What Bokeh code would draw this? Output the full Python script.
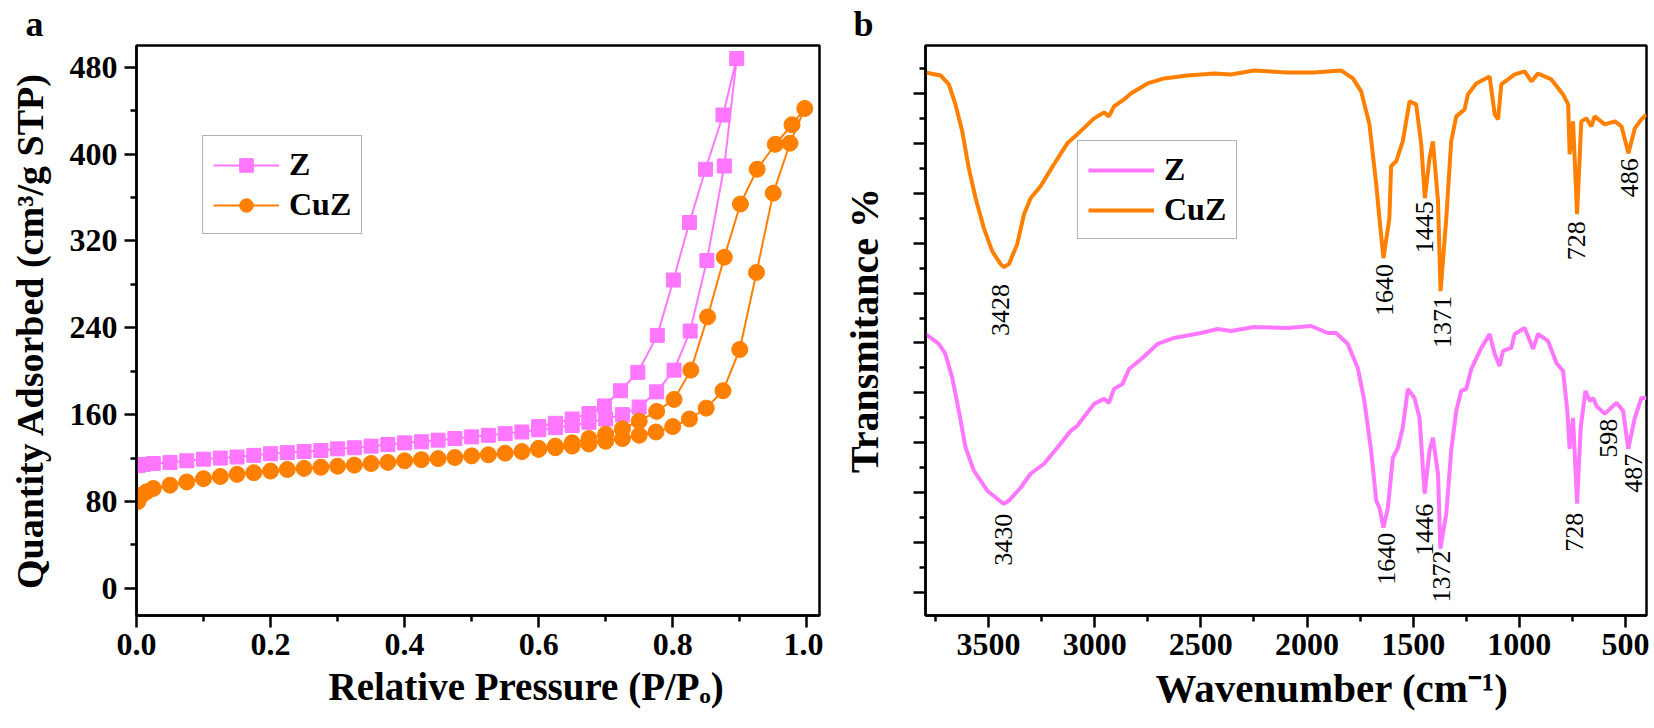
import numpy as np
from bokeh.plotting import figure
from bokeh.models import Range1d, FixedTicker, Title, PrintfTickFormatter, CustomJSTickFormatter
from bokeh.layouts import row
from bokeh.embed import file_html
from bokeh.resources import INLINE
from bokeh.core.properties import value

PINK = "#FF77FF"
ORANGE = "#FF7F00"
FONT = "Liberation Serif"

# ---------------- Panel a: N2 isotherms ----------------
z_ads_p = [0.002, 0.01, 0.025, 0.05, 0.075, 0.10, 0.125, 0.15, 0.175, 0.20, 0.225, 0.25, 0.275,
           0.30, 0.325, 0.35, 0.375, 0.40, 0.425, 0.45, 0.475, 0.50, 0.525, 0.55, 0.575, 0.60,
           0.625, 0.65, 0.675, 0.70, 0.725, 0.75, 0.776, 0.802, 0.826, 0.851, 0.877, 0.8955]
z_ads_q = [113, 114, 115, 116, 117.5, 119, 120, 121, 122.5, 124, 125, 126, 127,
           128.5, 129.5, 131, 132.5, 134, 135, 136.5, 138, 139.5, 141, 142.5, 144, 146,
           148, 150, 153, 156, 160, 167, 181, 201, 237, 302, 389, 488]
z_des_p = [0.875, 0.849, 0.825, 0.801, 0.777, 0.748, 0.722, 0.698, 0.675, 0.65, 0.625, 0.60]
z_des_q = [436, 386, 337, 284, 233, 199, 182, 168, 161, 156, 152, 149]

cuz_ads_p = [0.002, 0.008, 0.015, 0.025, 0.05, 0.075, 0.10, 0.125, 0.15, 0.175, 0.20, 0.225,
             0.25, 0.275, 0.30, 0.325, 0.35, 0.375, 0.40, 0.425, 0.45, 0.475, 0.50, 0.525,
             0.55, 0.575, 0.60, 0.625, 0.65, 0.675, 0.70, 0.725, 0.75, 0.775, 0.80, 0.825,
             0.85, 0.875, 0.90, 0.925, 0.95, 0.975, 0.997]
cuz_ads_q = [80, 86, 89, 92, 95, 98, 101, 103, 105, 106.5, 108, 109.5,
             110.5, 111.5, 112.5, 113.5, 115, 116, 117.5, 118.5, 119.5, 120.5, 122, 123,
             124.5, 126, 128, 129.5, 131, 133, 135.5, 138, 141, 144, 149, 156,
             166, 182, 220, 291, 364, 410, 442]
cuz_des_p = [0.978, 0.953, 0.926, 0.901, 0.877, 0.852, 0.827, 0.802, 0.776, 0.75, 0.725, 0.70,
             0.675, 0.65, 0.625, 0.60]
cuz_des_q = [427, 409, 386, 354, 305, 250, 201, 174, 163, 154, 147, 142, 138, 134, 131, 129]

# ---------------- Panel b: FTIR spectra ----------------
cuz_wn = [3797, 3726, 3687, 3656, 3624, 3593, 3561, 3522, 3483, 3443, 3428, 3404, 3365, 3333,
          3302, 3255, 3192, 3129, 3082, 3003, 2956, 2933, 2909, 2862, 2830, 2751, 2673, 2563,
          2437, 2358, 2249, 2091, 1966, 1840, 1784, 1745, 1706, 1674, 1659, 1640, 1612, 1604,
          1580, 1549, 1517, 1486, 1462, 1445, 1423, 1407, 1383, 1371, 1344, 1321, 1297, 1258,
          1242, 1203, 1140, 1116, 1100, 1085, 1022, 975, 943, 912, 849, 794, 770, 763, 747,
          728, 708, 684, 661, 645, 598, 550, 519, 486, 456, 425, 401]
cuz_t = [544, 541, 532, 512, 485, 448, 418, 388, 365, 352, 349, 352, 372, 402,
         418, 430, 452, 473, 482, 498, 504, 500, 510, 517, 523, 533, 538, 541,
         543, 542, 546, 544, 544, 546, 538, 525, 492, 432, 398, 358, 398, 450,
         455, 475, 515, 512, 472, 418, 458, 475, 415, 325, 398, 475, 500, 507,
         522, 533, 540, 502, 497, 532, 542, 545, 535, 543, 537, 522, 512, 462, 495,
         402, 495, 498, 490, 500, 492, 495, 490, 463, 488, 497, 502]

z_wn = [3797, 3734, 3703, 3671, 3640, 3608, 3569, 3506, 3430, 3404, 3349, 3302, 3239, 3176,
        3113, 3082, 3003, 2956, 2933, 2909, 2869, 2838, 2775, 2704, 2626, 2500, 2421, 2358,
        2249, 2091, 1981, 1902, 1863, 1808, 1761, 1730, 1698, 1674, 1659, 1640, 1619, 1596,
        1572, 1549, 1525, 1494, 1470, 1446, 1423, 1407, 1383, 1372, 1344, 1321, 1297, 1274,
        1250, 1226, 1179, 1140, 1116, 1093, 1077, 1038, 1022, 975, 935, 912, 865, 825, 794,
        774, 763, 747, 728, 711, 689, 668, 652, 637, 598, 543, 511, 487, 456, 425, 401]
z_t = [282, 272, 262, 238, 205, 168, 145, 125, 112, 115, 128, 142, 152, 168,
       185, 190, 212, 217, 213, 227, 232, 247, 258, 272, 278, 283, 287, 285,
       289, 288, 290, 283, 283, 272, 248, 215, 165, 115, 108, 88, 108, 158,
       168, 188, 227, 218, 198, 122, 165, 178, 142, 67, 102, 165, 205, 225,
       227, 247, 268, 282, 262, 250, 265, 268, 282, 288, 267, 282, 275, 253, 245,
       205, 167, 198, 112, 188, 225, 215, 218, 210, 202, 213, 205, 167, 198, 218, 218]

cuz_peak_text = ["3428", "1640", "1445", "1371", "728", "486"]
cuz_peak_x = [3443, 1637, 1448, 1363, 731, 481]
cuz_peak_y = [332, 352, 415, 320, 395, 458]
z_peak_text = ["3430", "1640", "1446", "1372", "728", "598", "487"]
z_peak_x = [3429, 1627, 1448, 1368, 740, 580, 462]
z_peak_y = [102, 83, 112, 65, 103, 197, 162]


def style(p):
    p.xgrid.grid_line_color = None
    p.ygrid.grid_line_color = None
    p.outline_line_color = "black"
    p.outline_line_width = 2.5
    p.outline_line_alpha = 1.0
    p.background_fill_color = "white"
    p.border_fill_color = "white"
    for ax in (p.xaxis[0], p.yaxis[0]):
        ax.axis_line_width = 2.5
        ax.axis_line_color = "black"
        ax.major_tick_line_width = 2.5
        ax.minor_tick_line_width = 2.5
        ax.major_tick_line_color = "black"
        ax.minor_tick_line_color = "black"
        ax.major_tick_out = 12
        ax.major_tick_in = 0
        ax.minor_tick_out = 6
        ax.minor_tick_in = 0
        ax.major_label_text_font = FONT
        ax.major_label_text_font_style = "bold"
        ax.major_label_text_font_size = "32px"
        ax.major_label_text_color = "black"
        ax.axis_label_text_font = FONT
        ax.axis_label_text_font_style = "bold"
        ax.axis_label_text_font_size = "40px"
        ax.axis_label_text_color = "black"


def style_legend(p, x, y):
    lg = p.legend[0]
    lg.location = (x, y)
    lg.border_line_color = "#666666"
    lg.border_line_width = 1.5
    lg.background_fill_color = "white"
    lg.background_fill_alpha = 1.0
    lg.label_text_font = FONT
    lg.label_text_font_style = "bold"
    lg.label_text_font_size = "32px"
    lg.label_text_color = "black"
    lg.glyph_width = 66
    lg.glyph_height = 34
    lg.label_height = 34
    lg.label_standoff = 10
    lg.padding = 10
    lg.spacing = 3
    lg.margin = 0


def panel_letter(text, offset):
    return Title(text=text, align="left", offset=offset, vertical_align="bottom", standoff=3,
                 text_font=FONT, text_font_style="bold", text_font_size="36px",
                 text_color="black")


def x_title(text, offset, size):
    return Title(text=text, align="left", offset=offset, vertical_align="top", standoff=14,
                 text_font=FONT, text_font_style="bold", text_font_size=size,
                 text_color="black")


# ---------- left figure ----------
p1 = figure(width=823, height=728, x_range=Range1d(0, 1.019), y_range=Range1d(-25, 500),
            output_backend="svg", toolbar_location=None,
            min_border_left=136, min_border_right=4, min_border_top=44, min_border_bottom=113)
style(p1)
p1.xaxis.ticker = FixedTicker(ticks=[0.0, 0.2, 0.4, 0.6, 0.8, 1.0],
                              minor_ticks=[0.1, 0.3, 0.5, 0.7, 0.9])
p1.xaxis.formatter = PrintfTickFormatter(format="%.1f")
p1.yaxis.ticker = FixedTicker(ticks=[0, 80, 160, 240, 320, 400, 480],
                              minor_ticks=[40, 120, 200, 280, 360, 440])
p1.xaxis.major_label_standoff = 6
p1.yaxis.major_label_standoff = 7
p1.yaxis.axis_label = "Quantity Adsorbed (cm\u00b3/g STP)"
p1.yaxis.axis_label_text_font_size = "38px"
p1.yaxis.axis_label_standoff = 16

z_p = z_ads_p + z_des_p
z_q = z_ads_q + z_des_q
cuz_p = cuz_ads_p + cuz_des_p
cuz_q = cuz_ads_q + cuz_des_q
p1.line(z_p, z_q, line_color=PINK, line_width=2, legend_label="Z")
p1.scatter(z_p, z_q, marker="square", size=14, fill_color=PINK, line_color=PINK, legend_label="Z")
p1.line(cuz_p, cuz_q, line_color=ORANGE, line_width=2, legend_label="CuZ")
p1.scatter(cuz_p, cuz_q, marker="circle", size=16, fill_color=ORANGE, line_color=ORANGE,
           legend_label="CuZ")
style_legend(p1, 66, 381)

p1.add_layout(panel_letter("a", -111), "above")
p1.add_layout(x_title("Relative Pressure (P/P\u2092)", 192, "39px"), "below")

# ---------- right figure ----------
p2 = figure(width=831, height=728, x_range=Range1d(3797, 401), y_range=Range1d(0, 571),
            output_backend="svg", toolbar_location=None,
            min_border_left=102, min_border_right=8, min_border_top=44, min_border_bottom=113)
style(p2)
p2.xaxis.ticker = FixedTicker(ticks=[500, 1000, 1500, 2000, 2500, 3000, 3500],
                              minor_ticks=[750, 1250, 1750, 2250, 2750, 3250, 3750])
p2.yaxis.ticker = FixedTicker(ticks=list(range(23, 571, 50)), minor_ticks=list(range(48, 571, 50)))
p2.yaxis.formatter = CustomJSTickFormatter(code="return ''")
p2.yaxis.major_label_standoff = 0
p2.xaxis.major_label_standoff = 6
p2.yaxis.axis_label = "Transmitance %"
p2.yaxis.axis_label_standoff = 27

p2.line(z_wn, z_t, line_color=PINK, line_width=4, legend_label="Z")
p2.line(cuz_wn, cuz_t, line_color=ORANGE, line_width=4, legend_label="CuZ")
p2.text(x=cuz_peak_x, y=cuz_peak_y, text=cuz_peak_text, angle=np.pi / 2,
        text_font=value(FONT), text_font_size="26px", text_align="right",
        text_baseline="middle", text_color="black")
p2.text(x=z_peak_x, y=z_peak_y, text=z_peak_text, angle=np.pi / 2,
        text_font=value(FONT), text_font_size="26px", text_align="right",
        text_baseline="middle", text_color="black")
style_legend(p2, 152, 376)

p2.add_layout(panel_letter("b", -72), "above")
p2.add_layout(x_title("Wavenumber (cm\u207b\u00b9)", 230, "41px"), "below")

layout = row(p1, p2)
open("out.html", "w").write(file_html(layout, INLINE))
